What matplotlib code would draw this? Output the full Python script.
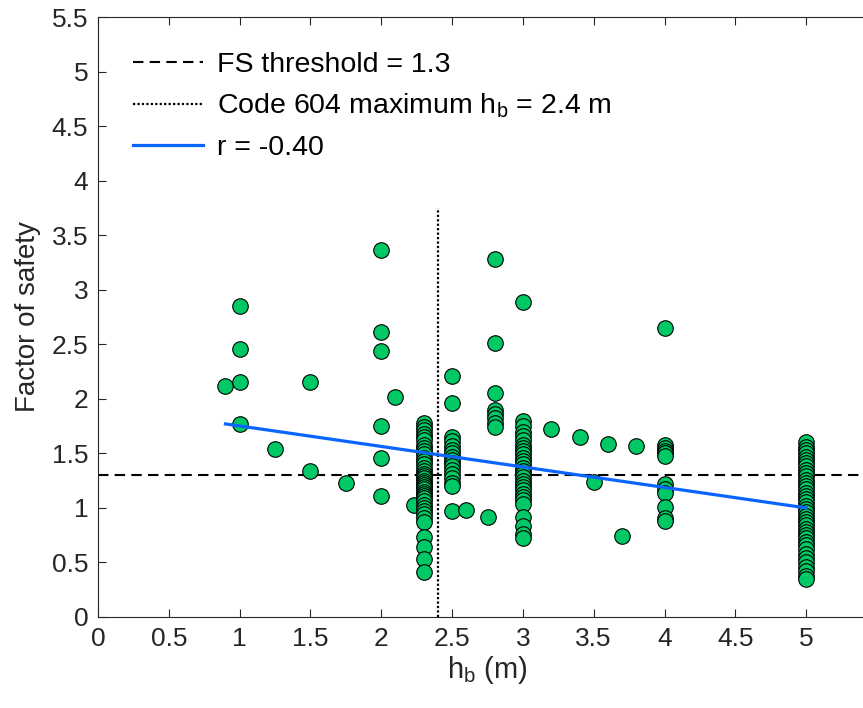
import matplotlib
matplotlib.use("Agg")
import matplotlib.pyplot as plt
import numpy as np

plt.rcParams['font.family'] = ['Liberation Sans', 'DejaVu Sans']
plt.rcParams['mathtext.default'] = 'regular'

# factor of safety readings grouped by bank height h_b (m)
groups = {
    0.9: [2.12],
    1.0: [2.85, 2.46, 2.15, 1.77],
    1.25: [1.54],
    1.5: [2.15, 1.34],
    1.75: [1.23],
    2.0: [3.36, 2.61, 2.44, 1.75, 1.46, 1.11],
    2.1: [2.02],
    2.23: [1.03],
    2.3: [1.78, 1.74, 1.71, 1.68, 1.65, 1.62, 1.58, 1.55, 1.52, 1.49, 1.46,
          1.43, 1.40, 1.37, 1.34, 1.31, 1.29, 1.27, 1.25, 1.23, 1.21, 1.19,
          1.17, 1.15, 1.13, 1.11, 1.09, 1.06, 1.03, 1.00, 0.97, 0.94, 0.91,
          0.87, 0.73, 0.64, 0.53, 0.41],
    2.5: [2.21, 1.96, 1.65, 1.61, 1.57, 1.53, 1.50, 1.47, 1.44, 1.41, 1.38,
          1.35, 1.31, 1.27, 1.23, 1.20, 0.97],
    2.6: [0.98],
    2.75: [0.92],
    2.8: [3.28, 2.51, 2.05, 1.90, 1.86, 1.82, 1.78, 1.74],
    3.0: [2.89, 1.80, 1.75, 1.70, 1.66, 1.62, 1.58, 1.55, 1.52, 1.49, 1.46,
          1.43, 1.40, 1.37, 1.34, 1.31, 1.28, 1.25, 1.22, 1.19, 1.16, 1.13,
          1.10, 1.07, 1.04, 0.92, 0.83, 0.76, 0.72],
    3.2: [1.72],
    3.4: [1.65],
    3.5: [1.24],
    3.6: [1.59],
    3.7: [0.74],
    3.8: [1.57],
    4.0: [2.65, 1.58, 1.55, 1.52, 1.50, 1.48, 1.22, 1.17, 1.14, 1.01, 0.91, 0.88],
    5.0: [1.60, 1.56, 1.53, 1.50, 1.47, 1.44, 1.41, 1.38, 1.35, 1.32, 1.29,
          1.26, 1.23, 1.20, 1.17, 1.14, 1.11, 1.08, 1.05, 1.02, 0.99, 0.96,
          0.93, 0.90, 0.87, 0.84, 0.81, 0.78, 0.75, 0.72, 0.69, 0.66, 0.62,
          0.58, 0.54, 0.50, 0.46, 0.42, 0.38, 0.35],
}
hb = []
fs = []
for k, v in groups.items():
    hb += [k] * len(v)
    fs += v

fs_threshold = 1.3
code_hb = 2.4
code_line_top = 3.75
fit_x = [0.9, 5.0]
fit_y = [1.77, 1.00]

fig = plt.figure(figsize=(8.63, 7.08), dpi=100)
ax = fig.add_axes([98 / 863, 91 / 708, (877 - 98) / 863, 600 / 708])

ax.axhline(fs_threshold, color='k', lw=1.5, dashes=(5, 3),
           label='FS threshold = %.1f' % fs_threshold, zorder=1)
ax.plot([code_hb, code_hb], [0, code_line_top], color='k', lw=1.6,
        linestyle=(0, (1, 1)), label='Code 604 maximum h$_b$ = %.1f m' % code_hb, zorder=1)
ax.scatter(hb, fs, s=125, facecolor='#00C864', edgecolor='k', linewidth=0.8, zorder=2)
ax.plot(fit_x, fit_y, color='#0A64FF', lw=2.3, label='r = -0.40', zorder=3)

ax.set_xlim(0, 5.5)
ax.set_ylim(0, 5.5)
ax.set_xticks(np.arange(0, 5.01, 0.5))
ax.set_xticklabels(['0', '0.5', '1', '1.5', '2', '2.5', '3', '3.5', '4', '4.5', '5'])
ax.set_yticks(np.arange(0, 5.51, 0.5))
ax.set_yticklabels(['0', '0.5', '1', '1.5', '2', '2.5', '3', '3.5', '4', '4.5', '5', '5.5'])
ax.tick_params(direction='in', top=True, right=True, length=6, width=0.8,
               labelsize=19, colors='#262626', pad=7)
for s in ax.spines.values():
    s.set_color('#262626')
    s.set_linewidth(0.8)

ax.set_xlabel('h$_b$ (m)', fontsize=21, color='#262626', labelpad=2)
ax.set_ylabel('Factor of safety', fontsize=20, color='#262626', labelpad=8)

ax.legend(loc='upper left', frameon=False, fontsize=20.5, handlelength=2.45,
          handletextpad=0.5, labelspacing=0.5, bbox_to_anchor=(0.012, 0.985))

fig.savefig('out.png', dpi=100)
